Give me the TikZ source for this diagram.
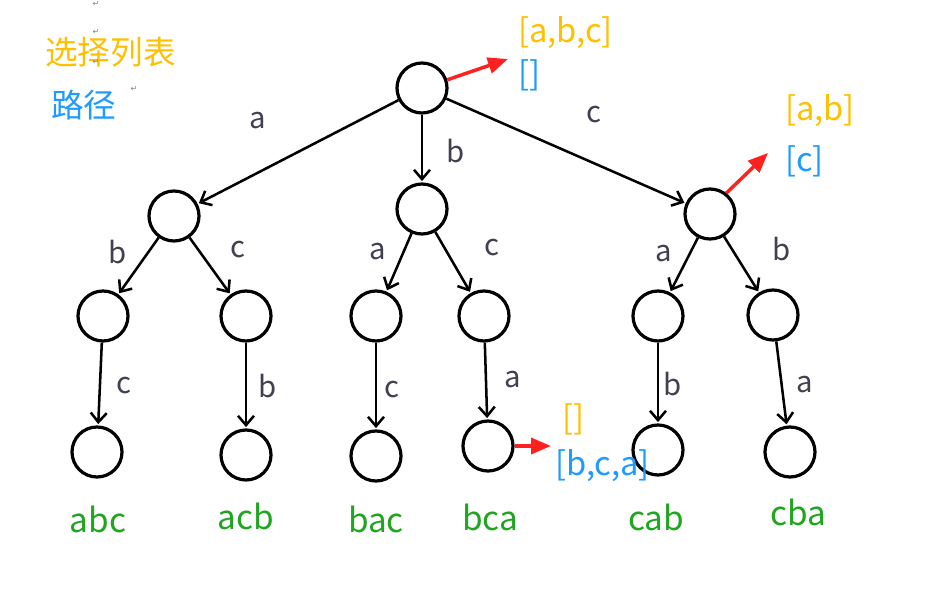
\documentclass[tikz,border=0pt]{standalone}
\usepackage{fontspec}
\setmainfont{Noto Sans CJK SC}
\newfontfamily\symfont{DejaVu Sans}
\usetikzlibrary{arrows.meta}
\definecolor{selc}{HTML}{FFC000}
\definecolor{pathc}{HTML}{1E9BFF}
\definecolor{leafc}{HTML}{1FA51F}
\definecolor{edgec}{HTML}{404050}
\definecolor{redc}{HTML}{FF2020}
\tikzset{
  st/.style={circle,draw=black,line width=2.4pt,minimum size=37.5pt,inner sep=0pt},
  ed/.style={draw=black,line width=1.9pt,-{Straight Barb[length=7pt,width=12pt,line width=1.9pt]},shorten >=1pt},
  el/.style={text=edgec,font=\fontsize{22}{22}\selectfont,inner sep=0pt},
  leaf/.style={text=leafc,font=\fontsize{25}{25}\selectfont,inner sep=0pt},
  sel/.style={text=selc,font=\fontsize{24.5}{24.5}\selectfont,inner sep=0pt},
  pth/.style={text=pathc,font=\fontsize{24.5}{24.5}\selectfont,inner sep=0pt},
  rar/.style={draw=redc,line width=2.6pt,-{Triangle[length=15pt,width=12pt]}},
  ret/.style={text=gray,font=\symfont\fontsize{6}{6}\selectfont,inner sep=0pt}
}
\begin{document}
\begin{tikzpicture}[x=0.75pt,y=-0.75pt]
\useasboundingbox (0,0) rectangle (947,609);
% nodes
\node[st] (r) at (422,88) {};
\node[st] (A) at (174,216) {};
\node[st] (B) at (422,209) {};
\node[st] (C) at (710,214) {};
\node[st] (Ab) at (103,316) {};
\node[st] (Ac) at (246,316) {};
\node[st] (Ba) at (376,316) {};
\node[st] (Bc) at (484,316) {};
\node[st] (Ca) at (658,316) {};
\node[st] (Cb) at (773,315) {};
\node[st] (Abc) at (97,452) {};
\node[st] (Acb) at (246,455) {};
\node[st] (Bac) at (376,456) {};
\node[st] (Bca) at (488,446) {};
\node[st] (Cab) at (658,450) {};
\node[st] (Cba) at (790,452) {};
% edges
\draw[ed] (r) -- (A);
\draw[ed] (r) -- (B);
\draw[ed] (r) -- (C);
\draw[ed] (A) -- (Ab);
\draw[ed] (A) -- (Ac);
\draw[ed] (B) -- (Ba);
\draw[ed] (B) -- (Bc);
\draw[ed] (C) -- (Ca);
\draw[ed] (C) -- (Cb);
\draw[ed] (Ab) -- (Abc);
\draw[ed] (Ac) -- (Acb);
\draw[ed] (Ba) -- (Bac);
\draw[ed] (Bc) -- (Bca);
\draw[ed] (Ca) -- (Cab);
\draw[ed] (Cb) -- (Cba);
% edge labels
\node[el] (l1) at (258,121) {a};
\node[el] (l2) at (456,151) {b};
\node[el] (l3) at (594,115) {c};
\node[el] (l4) at (118,252) {b};
\node[el] (l5) at (238,250) {c};
\node[el] (l6) at (378,252) {a};
\node[el] (l7) at (492,248) {c};
\node[el] (l8) at (664,254) {a};
\node[el] (l9) at (782,249) {b};
\node[el] (l10) at (124,386) {c};
\node[el] (l11) at (268,386) {b};
\node[el] (l12) at (392,390) {c};
\node[el] (l13) at (513,380) {a};
\node[el] (l14) at (673,384) {b};
\node[el] (l15) at (805,385) {a};
% leaf labels
\node[leaf] (t1) at (98,519) {abc};
\node[leaf] (t2) at (246,516) {acb};
\node[leaf] (t3) at (376,519) {bac};
\node[leaf] (t4) at (490,517) {bca};
\node[leaf] (t5) at (656,517) {cab};
\node[leaf] (t6) at (798,512) {cba};
% legend
\node[sel,anchor=west] (lg1) at (45,52) {选择列表};
\node[pth,anchor=west] (lg2) at (51,105) {路径};
% annotations
\node[sel,anchor=west] (s1) at (518,33) {[a,b,c]};
\node[pth,anchor=west] (p1) at (518,75) {[]};
\node[sel,anchor=west] (s2) at (785,111) {[a,b]};
\node[pth,anchor=west] (p2) at (785,161) {[c]};
\node[sel,anchor=west] (s3) at (562,419) {[]};
\node[pth,anchor=west] (p3) at (555,466) {[b,c,a]};
\coordinate (e1) at (508,59);
\coordinate (e2) at (768,153);
\coordinate (e3) at (551,446);
\draw[rar] (r.18) -- (e1);
\draw[rar] (C.52) -- (e2);
\draw[rar] (Bca.east) -- (e3);
% return marks
\node[ret] (m1) at (96,4) {↵};
\node[ret] (m2) at (96,32) {↵};
\node[ret] (m3) at (96,62) {↵};
\node[ret] (m4) at (134,89) {↵};
\end{tikzpicture}
\end{document}
